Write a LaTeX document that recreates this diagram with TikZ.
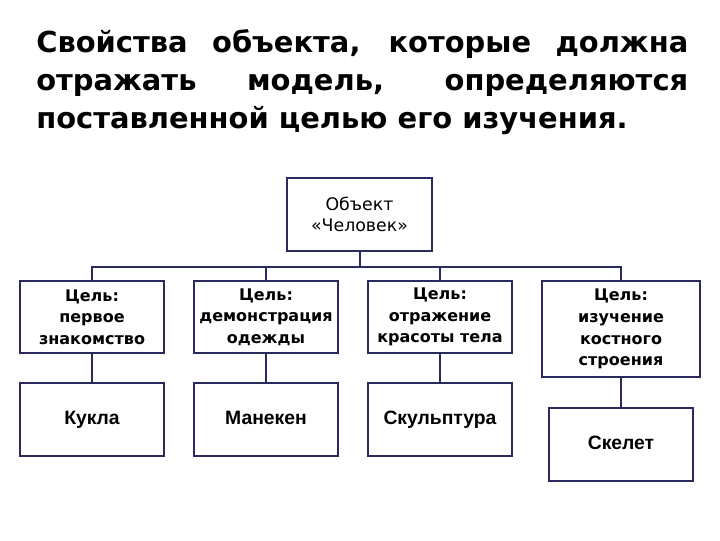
\documentclass[tikz,border=0pt]{standalone}
\usepackage{fontspec}
\setmainfont{DejaVu Sans}
\newfontfamily\arialfont{Liberation Sans}
\usetikzlibrary{positioning}
\definecolor{boxline}{RGB}{42,42,92}

\begin{document}
\begin{tikzpicture}[x=0.75pt,y=-0.75pt,
box/.style={draw=boxline,line width=1.5pt,fill=white,rectangle,minimum width=108pt,minimum height=54pt,text width=104pt,inner sep=2pt,align=center,font=\bfseries\fontsize{12}{16.25}\selectfont},
model/.style={box,minimum height=54.75pt,text height=10.5pt,text depth=3pt,font=\arialfont\bfseries\fontsize{14.5}{17}\selectfont},
link/.style={draw=boxline,line width=1.5pt}]
\useasboundingbox (0,0) rectangle (720,540);
\node (title) [anchor=base west,inner sep=0pt,text width=489pt,align=justify,
    font=\bfseries\fontsize{21.7}{28.5}\selectfont] at (36,52)
    {Свойства объекта, которые должна\linebreak отражать модель, определяются\linebreak поставленной целью его изучения.};
\node (obj) [box,minimum width=108.75pt,minimum height=54.75pt,
    font=\fontsize{13}{16}\selectfont] at (359.5,214.5) {Объект\\«Человек»};
\coordinate (bus) at (359.5,267);
\node (goal1) [box] at (92,317) {Цель:\\первое\\знакомство};
\node (goal2) [box] at (266,317) {Цель:\\демонстрация\\одежды};
\node (goal3) [box] at (440,317) {Цель:\\отражение\\красоты тела};
\node (goal4) [box,minimum width=118.5pt,text width=114.5pt,minimum height=72pt] at (621,329) {Цель:\\изучение\\костного\\строения};
\node (model1) [model,below=21pt of goal1] {Кукла};
\node (model2) [model,below=21pt of goal2] {Манекен};
\node (model3) [model,below=21pt of goal3] {Скульптура};
\node (model4) [model,below=21.5pt of goal4] {Скелет};
\draw [link] (obj.south) -- (bus);
\draw [link] (goal1.north) |- (bus) -| (goal4.north);
\draw [link] (goal2.north) -- (goal2.north |- bus);
\draw [link] (goal3.north) -- (goal3.north |- bus);
\draw [link] (goal1) -- (model1);
\draw [link] (goal2) -- (model2);
\draw [link] (goal3) -- (model3);
\draw [link] (goal4) -- (model4);
\end{tikzpicture}
\end{document}
